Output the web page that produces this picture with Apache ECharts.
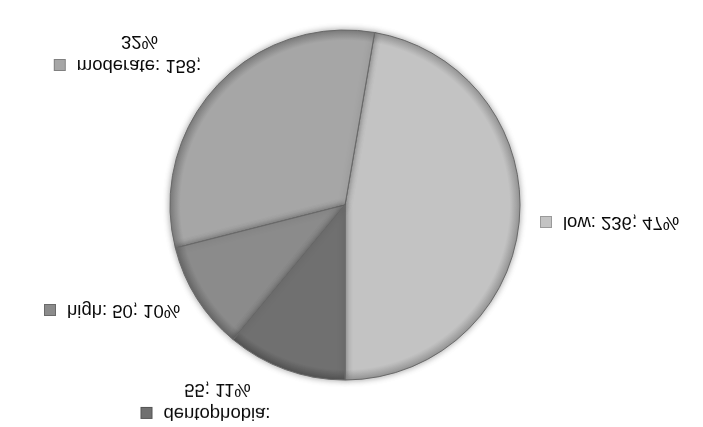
<!DOCTYPE html>
<html>
<head>
<meta charset="utf-8">
<script src="https://cdn.jsdelivr.net/npm/echarts@6/dist/echarts.min.js"></script>
<style>
  html, body { margin: 0; padding: 0; background: #ffffff; }
  #chart { width: 703px; height: 427px; transform: scaleY(-1); }
</style>
</head>
<body>
<div id="chart"></div>
<script>
// Data
const categories = ['low', 'moderate', 'high', 'dentophobia'];
const values = [236, 158, 50, 55];
const sliceColors = ['#c3c3c3', '#a6a6a6', '#8b8b8b', '#707070'];
const edgeColors = ['#9a9a9a', '#808080', '#6a6a6a', '#555555'];

// label styling (not data)
const twoLine = [false, true, false, true];
const labelPos = [
  { x: 541, y: 205, align: 'left' },
  { x: 128, y: 374, align: 'center' },
  { x: 45, y: 117, align: 'left' },
  { x: 206, y: 26, align: 'center' }
];
const pieCenter = [345, 222];
const pieRadius = 175;

const rich = {
  t: { fontSize: 18.5, fontFamily: 'Liberation Sans', color: '#0a0a0a', lineHeight: 24 },
  g: { width: 12, height: 10 },
  sp: { width: 23, height: 10 }
};
sliceColors.forEach(function (c, i) {
  rich['m' + i] = { width: 10, height: 10, backgroundColor: c, borderColor: edgeColors[i], borderWidth: 1 };
});

function sliceFill(i) {
  return {
    type: 'radial', x: pieCenter[0], y: pieCenter[1], r: pieRadius, global: true,
    colorStops: [
      { offset: 0, color: sliceColors[i] },
      { offset: 0.94, color: sliceColors[i] },
      { offset: 1, color: edgeColors[i] }
    ]
  };
}

const chart = echarts.init(document.getElementById('chart'), null, { renderer: 'canvas' });
chart.setOption({
  backgroundColor: '#ffffff',
  animation: false,
  series: [{
    type: 'pie',
    center: pieCenter,
    radius: pieRadius,
    startAngle: 90,
    clockwise: true,
    avoidLabelOverlap: false,
    data: categories.map(function (c, i) {
      return { name: c, value: values[i], itemStyle: { color: sliceFill(i) } };
    }),
    itemStyle: {
      borderColor: '#6a6a6a',
      borderWidth: 1,
      shadowBlur: 6,
      shadowColor: 'rgba(0,0,0,0.35)'
    },
    emphasis: { disabled: true },
    labelLine: { show: false },
    label: {
      show: true,
      position: 'outside',
      rich: rich,
      formatter: function (p) {
        const i = p.dataIndex;
        const pct = Math.round(p.percent) + '%';
        if (twoLine[i]) {
          if (i === 1) {
            return '{m' + i + '|}{g|}{t|' + p.name + ': ' + p.value + ';}\n{sp|}{t|' + pct + '}';
          }
          return '{m' + i + '|}{g|}{t|' + p.name + ':}\n{sp|}{t|' + p.value + '; ' + pct + '}';
        }
        return '{m' + i + '|}{g|}{t|' + p.name + ': ' + p.value + '; ' + pct + '}';
      }
    },
    labelLayout: function (p) {
      const lp = labelPos[p.dataIndex];
      return { x: lp.x, y: lp.y, align: lp.align, verticalAlign: 'middle' };
    }
  }]
});
</script>
</body>
</html>
